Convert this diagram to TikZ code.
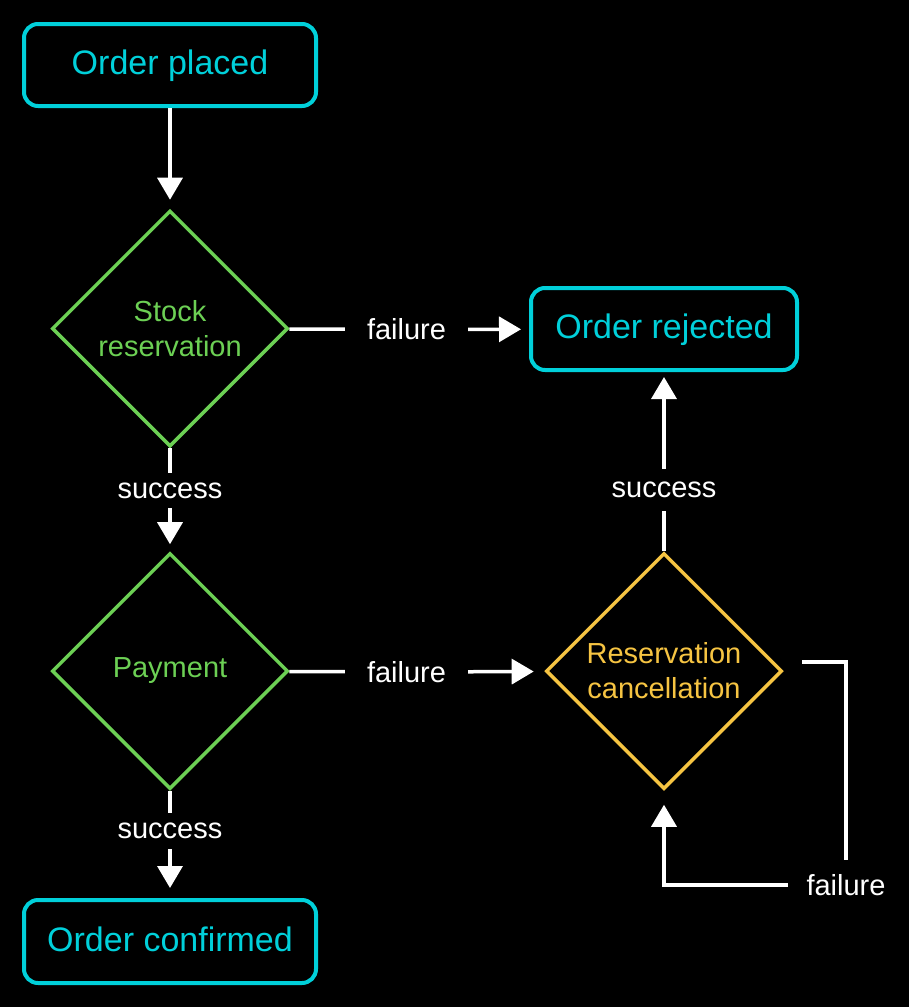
\documentclass[tikz,border=0pt]{standalone}
\usepackage{fontspec}
\setmainfont{Liberation Sans}
\usetikzlibrary{shapes.geometric,arrows.meta}
\definecolor{cy}{RGB}{0,208,218}
\definecolor{gr}{RGB}{108,208,84}
\definecolor{yl}{RGB}{246,196,66}
\begin{document}
\begin{tikzpicture}[x=1pt,y=-1pt,
  box/.style={draw=cy, text=cy, line width=4pt, rounded corners=14pt, minimum height=82pt, inner sep=0pt, text height=22pt, text depth=3pt, font=\fontsize{34}{40}\selectfont},
  dec/.style={diamond, aspect=1, line width=3.5pt, minimum width=236pt, minimum height=236pt, inner sep=0pt, align=center, font=\fontsize{29}{35}\selectfont},
  lab/.style={text=white, inner sep=0pt, font=\fontsize{29}{35}\selectfont},
  conn/.style={draw=white, line width=3.5pt},
  arr/.style={conn, -{Triangle[width=25pt,length=22pt]}}]
\fill[black] (0,0) rectangle (909,1007);
\useasboundingbox (0,0) rectangle (909,1007);

% nodes
\node[box, minimum width=292pt] (placed) at (170,65) {Order placed};
\node[dec, draw=gr, text=gr] (stock) at (170,328.5) {Stock\\reservation};
\node[dec, draw=gr, text=gr] (pay) at (170,671) {Payment};
\node[dec, draw=yl, text=yl] (canc) at (664,671) {Reservation\\cancellation};
\node[box, minimum width=266pt] (rej) at (664,329) {Order rejected};
\node[box, minimum width=292pt, minimum height=83pt] (conf) at (170,941.5) {Order confirmed};

% labels
\node[lab, minimum width=123pt] (f1) at (406.5,329.5) {failure};
\node[lab, minimum width=123pt] (f2) at (406.5,672) {failure};
\node[lab, minimum height=35pt] (s1) at (170,490.5) {success};
\node[lab, minimum height=36pt] (s2) at (170,831) {success};
\node[lab, minimum height=42pt] (s3) at (664,490) {success};
\node[lab, minimum width=116pt, minimum height=50pt] (f3) at (846,885) {failure};
\coordinate (lp) at (802,662);

% connectors
\draw[arr, shorten >=9pt] (placed) -- (stock);
\draw[conn] (stock) -- (f1);
\draw[arr, shorten >=8pt] (f1) -- (rej);
\draw[conn] (stock) -- (s1);
\draw[arr, shorten >=7pt] (s1) -- (pay);
\draw[conn] (pay) -- (f2);
\draw[arr, shorten >=11pt] (f2) -- (canc);
\draw[conn] (pay) -- (s2);
\draw[arr, shorten >=10pt] (s2) -- (conf);
\draw[conn] (canc) -- (s3);
\draw[arr, shorten >=5pt] (s3) -- (rej);
\draw[conn] (lp) -| (f3.north);
\draw[arr, shorten >=14pt] (f3.west) -| (canc.south);
\end{tikzpicture}
\end{document}
